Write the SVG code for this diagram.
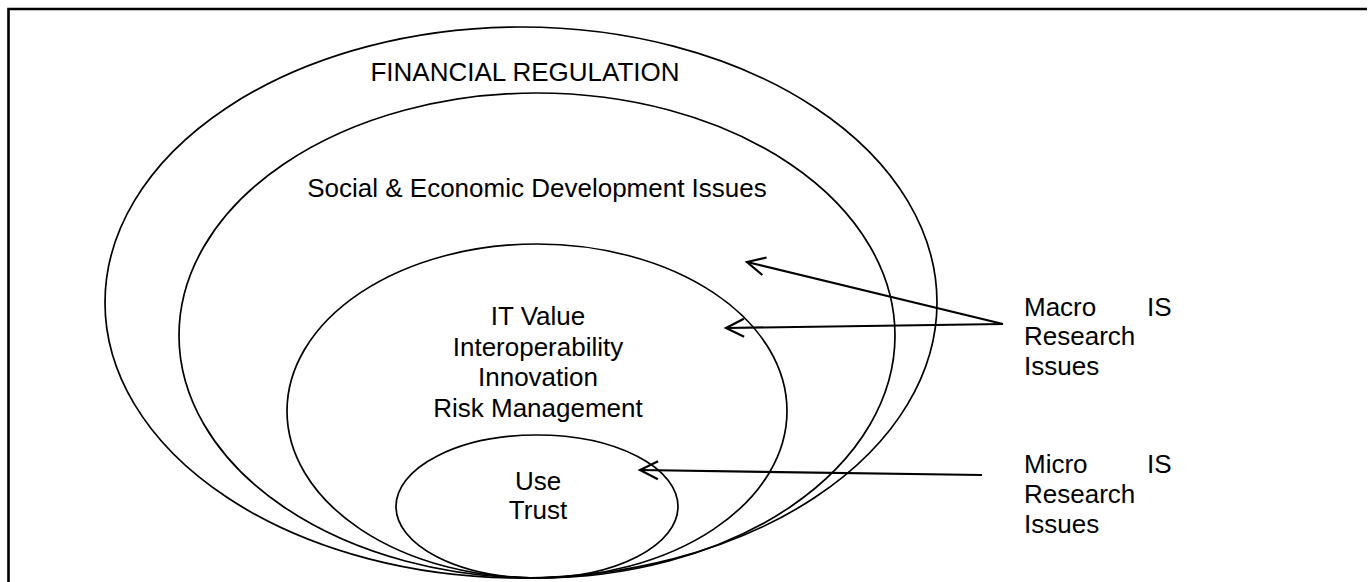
<svg xmlns="http://www.w3.org/2000/svg" width="1369" height="582" viewBox="0 0 1369 582">
  <style>
    .ring { fill: none; stroke: #000; stroke-width: 1.7; }
    .lbl { font-family: "Liberation Sans", Arial, sans-serif; font-size: 26px; fill: #000; }
    .mid { text-anchor: middle; }
    .link { fill: none; stroke: #000; stroke-width: 2.2; marker-end: url(#openArrow); }
    .frame { fill: none; stroke: #000; stroke-width: 2.6; }
  </style>
  <defs>
    <marker id="openArrow" markerUnits="userSpaceOnUse" markerWidth="24" markerHeight="24" viewBox="-22 -12 24 24" refX="0" refY="0" orient="auto" overflow="visible">
      <path d="M-18,-9 L0,0 L-18,9" fill="none" stroke="#000" stroke-width="2.2"/>
    </marker>
  </defs>
  <rect width="1369" height="582" fill="#fff"/>

  <!-- page frame: only top and left edges fall inside the canvas -->
  <path class="frame" d="M8.5,582 V9 H1367"/>

  <g id="financial-regulation">
    <ellipse class="ring" cx="521" cy="302.5" rx="416" ry="275.5"/>
    <text class="lbl mid" x="525" y="81">FINANCIAL REGULATION</text>
  </g>

  <g id="social-economic">
    <ellipse class="ring" cx="537" cy="335.5" rx="358" ry="242.5"/>
    <text class="lbl mid" x="537" y="197">Social &amp; Economic Development Issues</text>
  </g>

  <g id="it-issues">
    <ellipse class="ring" cx="537" cy="411" rx="250" ry="167"/>
    <text class="lbl mid" x="538" y="325">IT Value</text>
    <text class="lbl mid" x="538" y="356">Interoperability</text>
    <text class="lbl mid" x="538" y="386">Innovation</text>
    <text class="lbl mid" x="538" y="417">Risk Management</text>
  </g>

  <g id="use-trust">
    <ellipse class="ring" cx="537" cy="506.5" rx="141" ry="71.5"/>
    <text class="lbl mid" x="538" y="490">Use</text>
    <text class="lbl mid" x="538" y="519">Trust</text>
  </g>

  <g id="macro-label">
    <text class="lbl" x="1024" y="316">Macro</text>
    <text class="lbl" x="1147" y="316">IS</text>
    <text class="lbl" x="1024" y="345">Research</text>
    <text class="lbl" x="1024" y="375">Issues</text>
  </g>

  <g id="micro-label">
    <text class="lbl" x="1024" y="473">Micro</text>
    <text class="lbl" x="1147" y="473">IS</text>
    <text class="lbl" x="1024" y="503">Research</text>
    <text class="lbl" x="1024" y="533">Issues</text>
  </g>

  <g id="connectors">
    <path class="link" d="M1003,324 L747,262"/>
    <path class="link" d="M1003,324 L726,328"/>
    <path class="link" d="M982,475 L640,470"/>
  </g>
</svg>
